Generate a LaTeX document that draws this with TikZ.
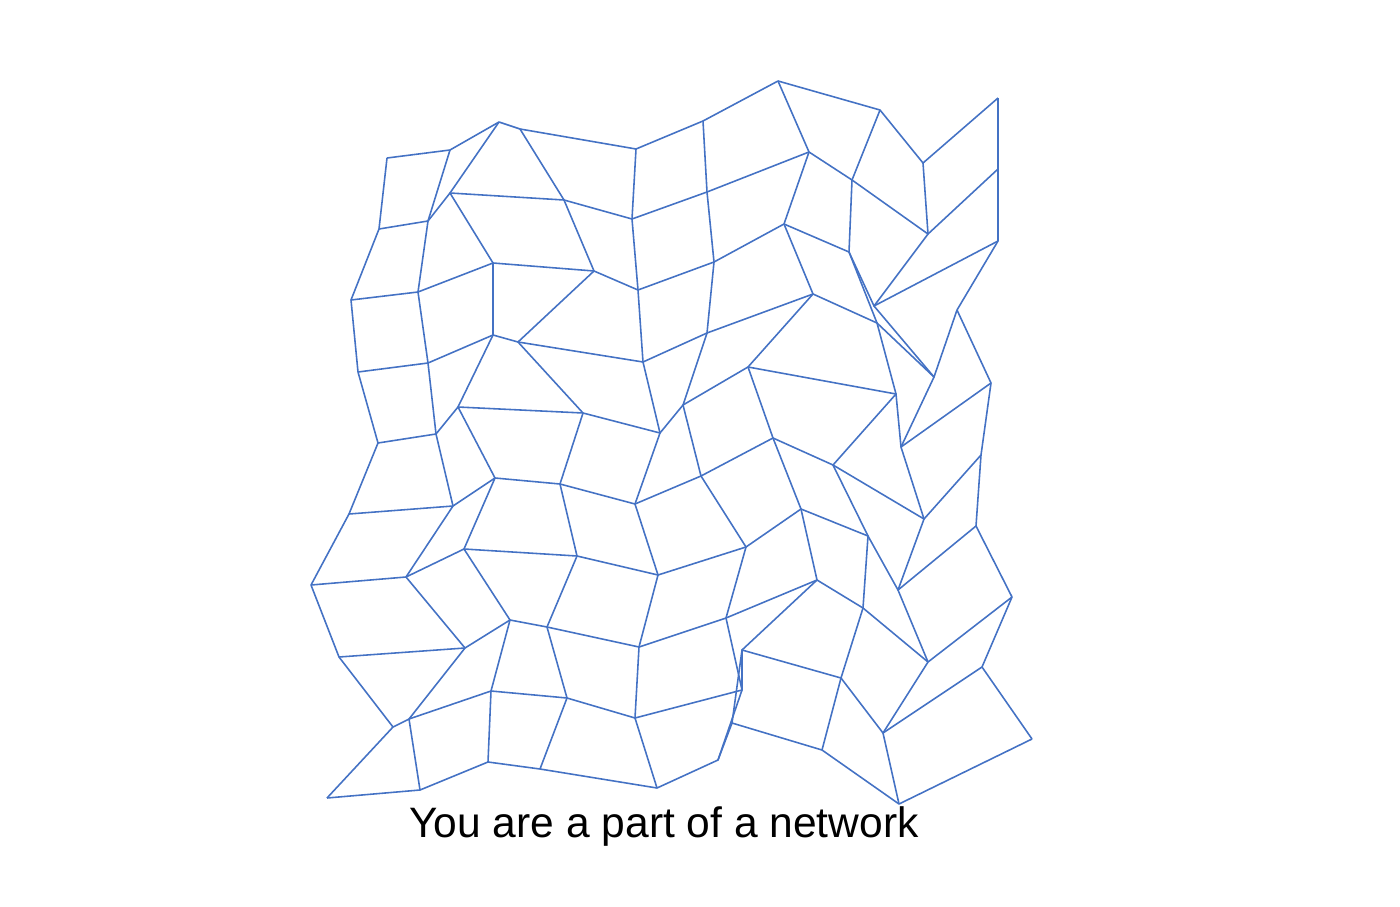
\documentclass[tikz,border=0pt]{standalone}
\usepackage{fontspec}
\setmainfont{Liberation Sans}
\usepackage{xcolor}
\definecolor{meshblue}{RGB}{68,114,196}

\begin{document}
\begin{tikzpicture}[x=0.01cm, y=-0.01cm,
  mesh/.style={draw=meshblue, line width=0.45pt, line join=round}]
\useasboundingbox (0,0) rectangle (1400,906);

% grid points, one row at a time (pixel positions)
\foreach \x/\y [count=\col from 0] in {387/158, 450/150, 499/122, 520/129, 636/149, 703/121, 778/81, 880/110, 923/163, 998/98}
  \coordinate (r0c\col) at (\x,\y);
\foreach \x/\y [count=\col from 0] in {379/229, 428/221, 450/193, 564/200, 632/219, 707/192, 809/152, 852/180, 928/234, 998/169}
  \coordinate (r1c\col) at (\x,\y);
\foreach \x/\y [count=\col from 0] in {351/300, 418/292, 493/263, 594/271, 638/290, 714/262, 784/224, 849/252, 874/306, 998/241}
  \coordinate (r2c\col) at (\x,\y);
\foreach \x/\y [count=\col from 0] in {358/372, 428/363, 493/335, 518/342, 643/362, 707/333, 813/294, 877/323, 934/377, 957/310}
  \coordinate (r3c\col) at (\x,\y);
\foreach \x/\y [count=\col from 0] in {378/443, 436/434, 458/407, 583/413, 660/433, 683/405, 748/367, 896/394, 901/447, 991/383}
  \coordinate (r4c\col) at (\x,\y);
\foreach \x/\y [count=\col from 0] in {349/514, 453/506, 495/478, 560/484, 635/504, 701/476, 773/438, 833/465, 924/519, 981/455}
  \coordinate (r5c\col) at (\x,\y);
\foreach \x/\y [count=\col from 0] in {311/585, 406/577, 464/549, 577/556, 658/575, 746/547, 801/509, 868/536, 898/590, 976/526}
  \coordinate (r6c\col) at (\x,\y);
\foreach \x/\y [count=\col from 0] in {339/657, 465/648, 510/620, 547/627, 639/647, 726/618, 817/580, 863/608, 928/662, 1012/597}
  \coordinate (r7c\col) at (\x,\y);
\foreach \x/\y [count=\col from 0] in {393/727, 409/719, 491/691, 567/698, 635/718, 742/690, 742/650, 841/678, 883/733, 982/667}
  \coordinate (r8c\col) at (\x,\y);
\foreach \x/\y [count=\col from 0] in {327/798, 420/790, 488/762, 540/769, 657/788, 718/760, 732/723, 822/750, 899/804, 1032/739}
  \coordinate (r9c\col) at (\x,\y);

% rows and columns of the net
\foreach \row in {0,...,9}
  \draw[mesh] (r\row c0) \foreach \col in {1,...,9} { -- (r\row c\col) };
\foreach \col in {0,...,9}
  \draw[mesh] (r0c\col) \foreach \row in {1,...,9} { -- (r\row c\col) };

\node[anchor=base, font=\fontsize{12.1}{14}\selectfont] (caption) at (664,837) {You are a part of a network};
\end{tikzpicture}
\end{document}
